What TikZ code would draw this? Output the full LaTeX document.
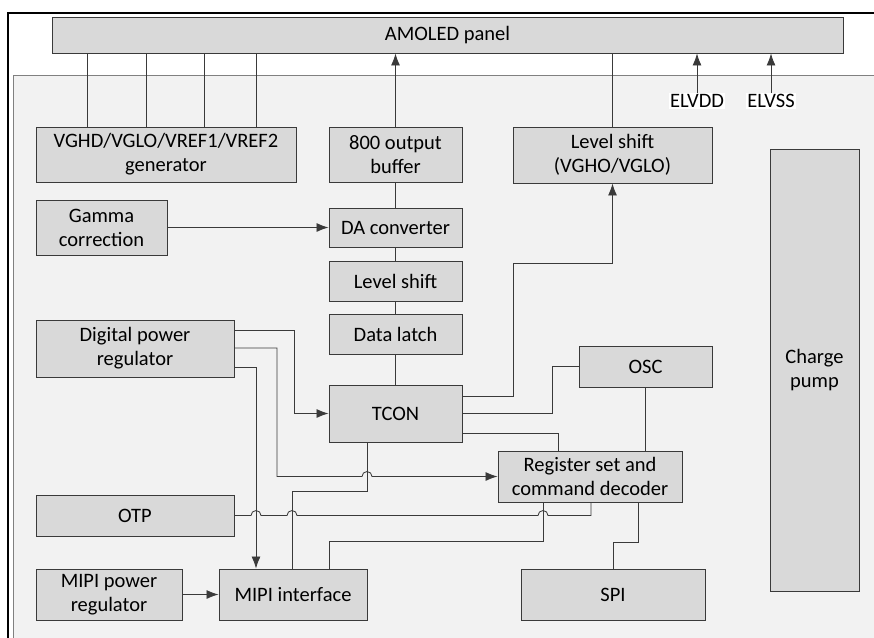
\documentclass[tikz,border=0pt]{standalone}
\usepackage{fontspec}
\setmainfont{Carlito}
\usetikzlibrary{arrows.meta}
\definecolor{boxfill}{HTML}{D9D9D9}
\definecolor{chipfill}{HTML}{F2F2F2}
\definecolor{wirecol}{HTML}{3A3A3A}

\begin{document}
\begin{tikzpicture}[x=1pt, y=-1pt,
    blk/.style={draw=wirecol, fill=boxfill, line width=0.9pt, align=center, inner sep=0pt,
      font=\fontsize{20.5}{24}\selectfont},
    wire/.style={draw=wirecol, line width=0.85pt},
    arr/.style={wire, -{Latex[length=12pt,width=9pt]}},
    pin/.style={fill=white, inner sep=1pt, font=\fontsize{20.5}{24}\selectfont}]
      \useasboundingbox (0,0) rectangle (874,637);
      \draw[line width=2pt] (8,660) -- (8,13) -- (900,13);
      \draw[draw=gray, fill=chipfill, line width=1pt] (13,660) -- (13,75) -- (900,75) -- (900,660) -- cycle;
      \node[blk, minimum width=791pt, minimum height=36pt] (panel) at (447.5,35) {AMOLED panel};
      \node[blk, minimum width=260pt, minimum height=55pt] (vgen) at (166,154.5) {VGHD/VGLO/VREF1/VREF2\\generator};
      \node[blk, minimum width=133pt, minimum height=55pt] (buf) at (395.5,154.5) {800 output\\buffer};
      \node[blk, minimum width=199pt, minimum height=56pt] (lvlgate) at (612.5,155) {Level shift\\(VGHO/VGLO)};
      \node[blk, minimum width=89pt, minimum height=442pt] (pump) at (814.5,370) {Charge\\pump};
      \node[blk, minimum width=131pt, minimum height=55pt] (gamma) at (101.5,227.5) {Gamma\\correction};
      \node[blk, minimum width=133pt, minimum height=39pt] (dac) at (395.5,227.5) {DA converter};
      \node[blk, minimum width=133pt, minimum height=40pt] (lvlsrc) at (395.5,281) {Level shift};
      \node[blk, minimum width=133pt, minimum height=40pt] (latch) at (395.5,334) {Data latch};
      \node[blk, minimum width=133pt, minimum height=57pt] (tcon) at (395.5,413.5) {TCON};
      \node[blk, minimum width=198pt, minimum height=57pt] (dpr) at (135,348.5) {Digital power\\regulator};
      \node[blk, minimum width=133pt, minimum height=41pt] (osc) at (645.5,366.5) {OSC};
      \node[blk, minimum width=184pt, minimum height=51pt] (reg) at (590,476.5) {Register set and\\command decoder};
      \node[blk, minimum width=198pt, minimum height=41pt] (otp) at (135,515.5) {OTP};
      \node[blk, minimum width=148pt, minimum height=51pt] (mipi) at (293,594.5) {MIPI interface};
      \node[blk, minimum width=146pt, minimum height=51pt] (mpr) at (109,594.5) {MIPI power\\regulator};
      \node[blk, minimum width=184pt, minimum height=51pt] (spi) at (613,594.5) {SPI};
      \node[pin] (vdd) at (697,101) {ELVDD};
      \node[pin] (vss) at (771,101) {ELVSS};

      \foreach \x in {87,146,204,256}
        \draw[wire] (panel.south -| \x,0) -- (vgen.north -| \x,0);
      \draw[arr] (buf.north) -- (panel.south -| buf.north);
      \draw[wire] (lvlgate.north) -- (panel.south -| lvlgate.north);
      \draw[arr] (vdd.north) -- (panel.south -| vdd.north);
      \draw[arr] (vss.north) -- (panel.south -| vss.north);
      \draw[arr] (gamma.east) -- (dac.west);
      \draw[wire] (buf.south) -- (dac.north);
      \draw[wire] (dac.south) -- (lvlsrc.north);
      \draw[wire] (lvlsrc.south) -- (latch.north);
      \draw[wire] (latch.south) -- (tcon.north);

      \draw[arr] (dpr.east |- 0,330) -- (294,330) |- (tcon.west);
      \draw[arr] (dpr.east |- 0,348) -- (277,348) -- (277,476.5) -- (362,476.5)
        arc (180:0:5pt) -- (reg.west);
      \draw[arr] (dpr.east |- 0,367) -- (256,367) -- (mipi.north -| 256,0);

      \draw[arr] (tcon.east |- 0,396) -| (513,263) -| (lvlgate.south);
      \draw[wire] (tcon.east |- 0,413) -| (552,366.5) -- (osc.west);
      \draw[wire] (tcon.east |- 0,433) -| (reg.north -| 558,0);
      \draw[wire] (osc.south) -- (reg.north -| osc.south);
      \draw[wire] (tcon.south -| 367,0) -- (367,491) -| (mipi.north -| 292,0);

      \draw[wire] (otp.east) -- (251,515.5) arc (180:0:5pt) -- (287,515.5) arc (180:0:5pt)
        -- (538,515.5) arc (180:0:5pt) -- (591,515.5) -- (reg.south -| 591,0);
      \draw[wire] (mipi.north -| 329,0) |- (543,541) -- (reg.south -| 543,0);
      \draw[wire] (reg.south -| 638,0) -- (638,542) -| (spi.north);
      \draw[arr] (mpr.east) -- (mipi.west);
    \end{tikzpicture}
\end{document}
